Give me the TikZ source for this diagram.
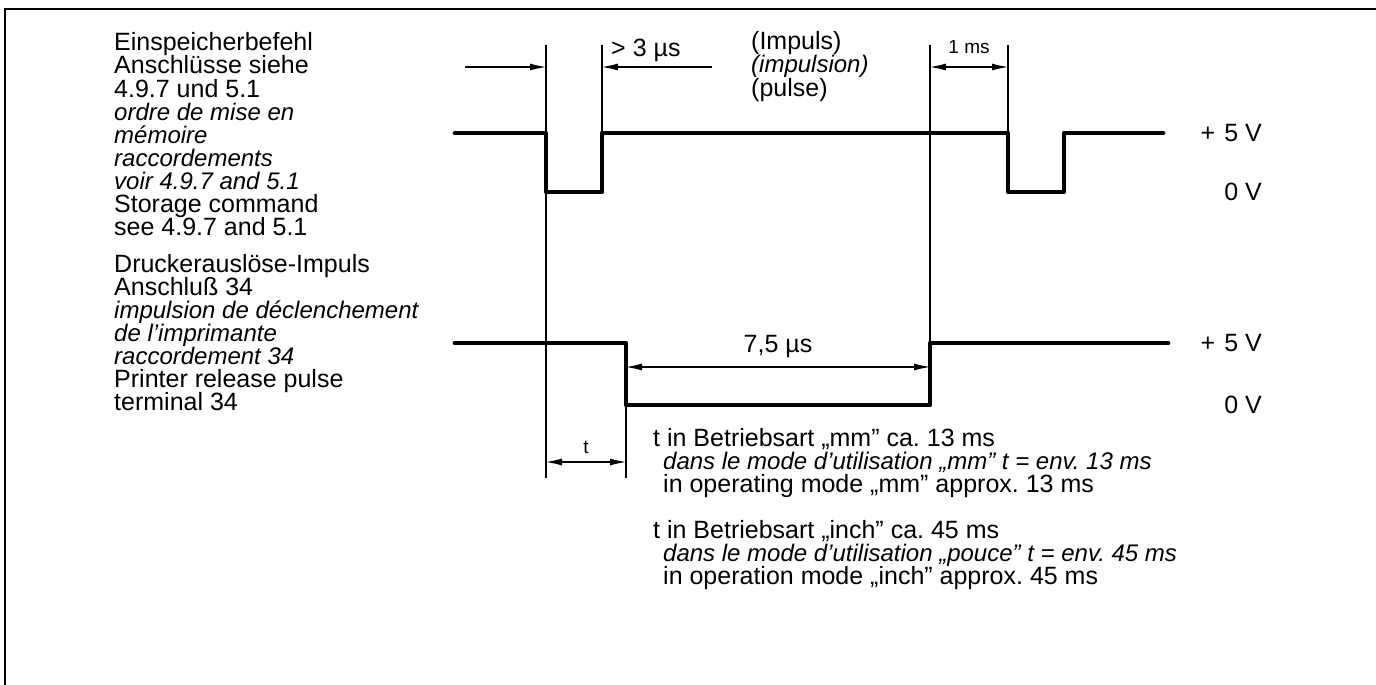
\documentclass[tikz,border=0pt]{standalone}
\usepackage{fontspec}
\setmainfont{Liberation Sans}
\usetikzlibrary{arrows.meta}
\frenchspacing
\begin{document}
\begin{tikzpicture}[x=1pt,y=-1pt,
  sig/.style={line width=4.8pt,line join=round,line cap=round},
  guide/.style={line width=1.1pt},
  frame/.style={line width=1.8pt},
  dimboth/.style={line width=1.1pt,{Latex[length=16pt,width=7pt]}-{Latex[length=16pt,width=7pt]}},
  dimend/.style={line width=1.1pt,-{Latex[length=16pt,width=7pt]}},
  txt/.style={font=\fontsize{25}{25}\selectfont,inner sep=0pt,anchor=base west},
  itxt/.style={txt,font=\fontsize{24}{24}\selectfont\itshape},
  small/.style={font=\fontsize{19}{19}\selectfont,inner sep=0pt,anchor=base},
  volt/.style={font=\fontsize{25}{25}\selectfont,inner sep=0pt,anchor=base east}]
\useasboundingbox (0,0) rectangle (1376,685);
% frame
\draw[frame] (5,685) -- (5,9) -- (1376,9);

% left labels, block 1
\node[txt]  (a1) at (114,51)  {Einspeicherbefehl};
\node[txt]  (a2) at (114,74)  {Anschlüsse siehe};
\node[txt]  (a3) at (114,97)  {4.9.7 und 5.1};
\node[itxt] (a4) at (114,120) {ordre de mise en};
\node[itxt] (a5) at (114,143) {mémoire};
\node[itxt] (a6) at (114,166) {raccordements};
\node[itxt] (a7) at (114,189) {voir 4.9.7 and 5.1};
\node[txt]  (a8) at (114,212) {Storage command};
\node[txt]  (a9) at (114,235) {see 4.9.7 and 5.1};

% left labels, block 2
\node[txt]  (b1) at (114,272) {Druckerauslöse-Impuls};
\node[txt]  (b2) at (114,295) {Anschluß 34};
\node[itxt] (b3) at (114,318) {impulsion de déclenchement};
\node[itxt] (b4) at (114,341) {de l’imprimante};
\node[itxt] (b5) at (114,364) {raccordement 34};
\node[txt]  (b6) at (114,387) {Printer release pulse};
\node[txt]  (b7) at (114,410) {terminal 34};

% pulse labels
\node[txt]  (p1) at (751,50) {(Impuls)};
\node[itxt] (p2) at (751,73) {(impulsion)};
\node[txt]  (p3) at (751,96) {(pulse)};

% voltage labels
\node[volt] (v1) at (1262,141) {+\hspace{9pt}5 V};
\node[volt] (v2) at (1262,200) {0 V};
\node[volt] (v3) at (1262,351) {+\hspace{9pt}5 V};
\node[volt] (v4) at (1262,413) {0 V};

% signals
\draw[sig] (455,133) -- (546,133) -- (546,192) -- (602,192) -- (602,133)
  -- (1008,133) -- (1008,192) -- (1064,192) -- (1064,133) -- (1163,133);
\draw[sig] (455,343) -- (626,343) -- (626,405) -- (930,405) -- (930,343) -- (1168,343);

% guide lines
\coordinate (g1t) at (546,45);  \coordinate (g1b) at (546,478);
\coordinate (g2t) at (602,45);  \coordinate (g2b) at (602,133);
\coordinate (g3t) at (930,45);  \coordinate (g3b) at (930,343);
\coordinate (g4t) at (1008,45); \coordinate (g4b) at (1008,133);
\coordinate (g5t) at (626,405); \coordinate (g5b) at (626,478);
\draw[guide] (g1t) -- (g1b);
\draw[guide] (g2t) -- (g2b);
\draw[guide] (g3t) -- (g3b);
\draw[guide] (g4t) -- (g4b);
\draw[guide] (g5t) -- (g5b);

% dimension arrows
\coordinate (d1s) at (465,67); \coordinate (d1e) at (546,67);
\coordinate (d2s) at (712,67); \coordinate (d2e) at (602,67);
\draw[dimend] (d1s) -- (d1e);
\draw[dimend] (d2s) -- (d2e);
\node[txt] (gt3) at (611,57) {>\hspace{7pt}3 µs};

\coordinate (d3s) at (930,67); \coordinate (d3e) at (1008,67);
\draw[dimboth] (d3s) -- (d3e);
\node[small] (ms1) at (969,54) {1 ms};

\coordinate (d4s) at (626,367); \coordinate (d4e) at (930,367);
\draw[dimboth] (d4s) -- (d4e);
\node[txt,anchor=base] (t75) at (778,352) {7,5 µs};

\coordinate (d5s) at (546,462); \coordinate (d5e) at (626,462);
\draw[dimboth] (d5s) -- (d5e);
\node[small] (tl) at (586,453) {t};

% notes
\node[txt]  (n1) at (653,446) {t in Betriebsart „mm” ca. 13 ms};
\node[itxt] (n2) at (663,469) {dans le mode d’utilisation „mm” t = env. 13 ms};
\node[txt]  (n3) at (663,492) {in operating mode „mm” approx. 13 ms};
\node[txt]  (n4) at (653,538) {t in Betriebsart „inch” ca. 45 ms};
\node[itxt] (n5) at (663,561) {dans le mode d’utilisation „pouce” t = env. 45 ms};
\node[txt]  (n6) at (663,584) {in operation mode „inch” approx. 45 ms};
\end{tikzpicture}
\end{document}
